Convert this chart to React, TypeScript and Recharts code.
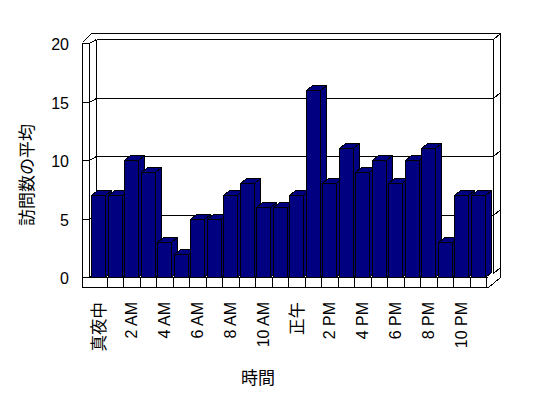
import React from 'react'
import { BarChart, Bar, XAxis, YAxis } from 'recharts'

const HOURS = [
  '真夜中', '1 AM', '2 AM', '3 AM', '4 AM', '5 AM', '6 AM', '7 AM', '8 AM', '9 AM', '10 AM', '11 AM',
  '正午', '1 PM', '2 PM', '3 PM', '4 PM', '5 PM', '6 PM', '7 PM', '8 PM', '9 PM', '10 PM', '11 PM',
]
const VISITS = [7, 7, 10, 9, 3, 2, 5, 5, 7, 8, 6, 6, 7, 16, 8, 11, 9, 10, 8, 10, 11, 3, 7, 7]
const Y_TICKS = [0, 5, 10, 15, 20]
const Y_MAX = 20

const W = 548
const H = 398
// plot box (front plane of the bars)
const PL = 90
const PT = 43
const PW = 396
const PH = 234
const PB = PT + PH
const PR = PL + PW

const NAVY = '#000080'
const LATIN = "'Liberation Sans', Arial, sans-serif"
const CJK = "'Noto Sans CJK JP', 'Liberation Sans', sans-serif"

const yF = (v: number) => PB - (PH * v) / Y_MAX // front plane
const yB = (v: number) => yF(v) - 4 // back wall

const data = HOURS.map((hour, i) => ({ hour, visits: VISITS[i] }))

const DX = 6
const DY = 5

function Bar3D(props: any) {
  const { x, y, width, height } = props
  if (height == null || width == null) return null
  const x0 = Math.round(x) + 0.5
  const x1 = x0 + Math.round(width)
  const y0 = Math.round(y) + 0.5
  const yb = Math.round(y + height) + 0.5
  const stroke = { stroke: '#000', strokeWidth: 1, strokeLinejoin: 'miter' as const }
  return (
    <g shapeRendering="crispEdges">
      <path d={`M${x1},${y0} L${x1 + DX},${y0 - DY} L${x1 + DX},${yb - DY} L${x1},${yb} Z`} fill={NAVY} {...stroke} />
      <path d={`M${x0},${y0} L${x0 + DX},${y0 - DY} L${x1 + DX},${y0 - DY} L${x1},${y0} Z`} fill={NAVY} {...stroke} />
      <rect x={x0} y={y0} width={x1 - x0} height={yb - y0} fill={NAVY} {...stroke} />
    </g>
  )
}

function XTick(props: any) {
  const { x, payload } = props
  const label = String(payload.value)
  const cjk = /[^\x00-\x7F]/.test(label)
  return (
    <text
      transform={`translate(${x},302) rotate(-90)`}
      textAnchor="end"
      dominantBaseline="central"
      fontSize={cjk ? 16.5 : 16}
      fontFamily={cjk ? CJK : LATIN}
      fill="#000"
    >
      {label}
    </text>
  )
}

function YTick(props: any) {
  const { y, payload } = props
  return (
    <text x={69} y={y + 1.5} textAnchor="end" dominantBaseline="central" fontSize={16} fontFamily={LATIN} fill="#000">
      {payload.value}
    </text>
  )
}

function Frame() {
  const ln = (x1: number, y1: number, x2: number, y2: number, k: string) => (
    <line key={k} x1={x1 + 0.5} y1={y1 + 0.5} x2={x2 + 0.5} y2={y2 + 0.5} stroke="#000" strokeWidth={1} />
  )
  const lines: React.ReactNode[] = []
  const lo = PL - 8
  const li = PL - 1
  const lb = PL + 6
  const rb = PR + 7
  const ro = PR + 14
  // gridlines on back wall + ticks on side walls
  Y_TICKS.forEach(v => {
    const b = Math.round(yB(v))
    const f = Math.round(yF(v))
    if (v > 0 && v < Y_MAX) lines.push(ln(lb, b, rb, b, 'g' + v))
    lines.push(ln(lo, f, li, f, 'lt' + v))
    lines.push(ln(li, f, lb, b, 'ld' + v))
    lines.push(ln(rb, b, ro, b - 6, 'rd' + v))
  })
  const top = Math.round(yB(Y_MAX))
  // back wall top
  lines.push(ln(lb, top, rb, top, 'top-in'))
  lines.push(ln(lo + 9, top - 6, ro, top - 6, 'top-out'))
  lines.push(ln(lo, top + 3, lo + 9, top - 6, 'tl-diag'))
  // verticals
  lines.push(ln(lo, top + 3, lo, PB + 10, 'v-lo'))
  lines.push(ln(li, Math.round(yF(Y_MAX)), li, PB, 'v-li'))
  lines.push(ln(lb, top, lb, Math.round(yB(0)), 'v-lb'))
  lines.push(ln(rb, top, rb, Math.round(yB(0)), 'v-rb'))
  lines.push(ln(ro, top - 6, ro, PB, 'v-ro'))
  // floor
  lines.push(ln(li, PB, PR + 1, PB, 'f-top'))
  lines.push(ln(lo, PB + 10, PR + 2, PB + 10, 'f-bot'))
  for (let k = 1; k <= HOURS.length; k++) {
    const x = Math.round(PL + (k * PW) / HOURS.length)
    lines.push(ln(x, PB, x, PB + 10, 'sep' + k))
  }
  lines.push(ln(PR + 2, PB + 10, ro, PB, 'f-rd'))
  return (
    <svg width={W} height={H} style={{ position: 'absolute', left: 0, top: 0 }} shapeRendering="crispEdges">
      <rect x={0} y={0} width={W} height={H} fill="#fff" />
      {lines}
      <text
        transform="translate(25,175) rotate(-90)"
        textAnchor="middle"
        dominantBaseline="central"
        fontSize={17}
        fontFamily={CJK}
        fill="#000"
        shapeRendering="auto"
      >
        訪問数の平均
      </text>
      <text x={258} y={376} textAnchor="middle" dominantBaseline="central" fontSize={17} fontFamily={CJK} fill="#000">
        時間
      </text>
    </svg>
  )
}

export default function App() {
  return (
    <div style={{ position: 'absolute', left: 0, top: 0, width: W, height: H, background: '#fff' }}>
      <Frame />
      <div style={{ position: 'absolute', left: 0, top: 0 }}>
        <BarChart
          width={W}
          height={H}
          data={data}
          margin={{ top: PT, right: W - PR, left: 0, bottom: 0 }}
          barSize={14}
        >
          <XAxis
            dataKey="hour"
            height={H - PB}
            axisLine={false}
            tickLine={false}
            interval={1}
            tick={<XTick />}
          />
          <YAxis
            domain={[0, Y_MAX]}
            ticks={Y_TICKS}
            width={PL}
            axisLine={false}
            tickLine={false}
            tick={<YTick />}
          />
          <Bar dataKey="visits" isAnimationActive={false} shape={Bar3D} />
        </BarChart>
      </div>
    </div>
  )
}
